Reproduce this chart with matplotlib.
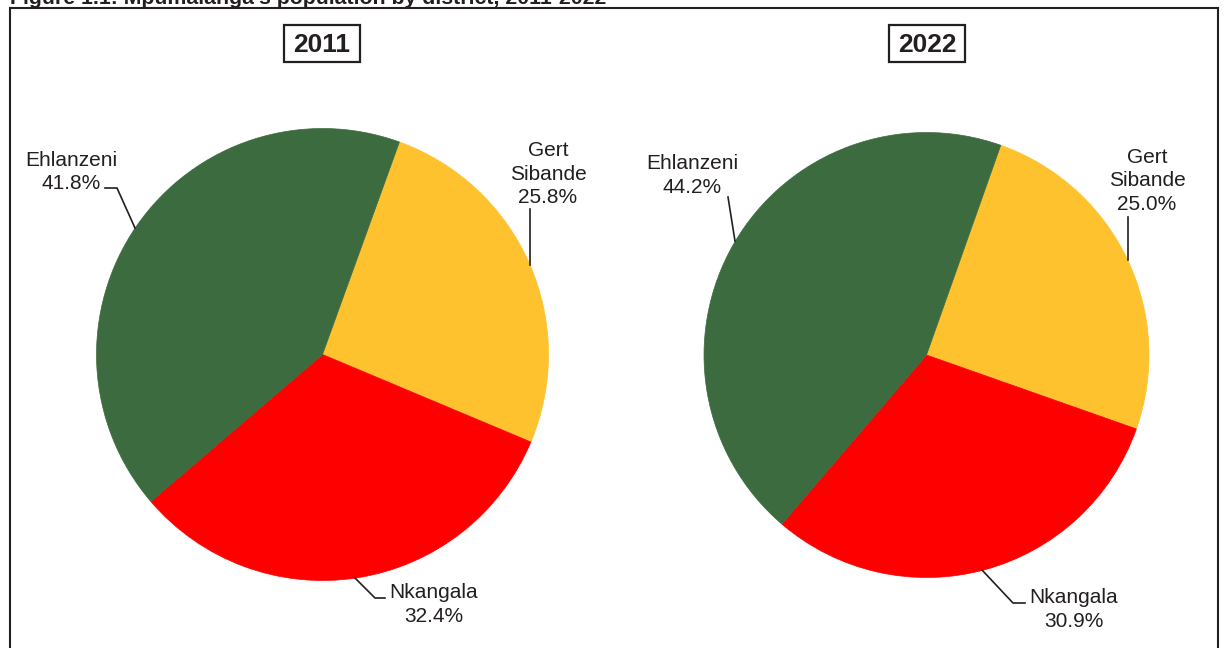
#!/usr/bin/env python3
"""Mpumalanga population by district, 2011 vs 2022 - two pie charts."""

import matplotlib.pyplot as plt
from matplotlib.patches import Rectangle

plt.rcParams['font.family'] = ['Liberation Sans', 'DejaVu Sans']

# data
districts = ['Gert\nSibande', 'Nkangala', 'Ehlanzeni']
share_2011 = [25.8, 32.4, 41.8]
share_2022 = [25.0, 30.9, 44.2]
years = ['2011', '2022']
colors = ['#FDC22E', '#FF0000', '#3D6B40']
title = "Figure 1.1: Mpumalanga's population by district, 2011-2022"

W, H = 1225, 648
TXT = '#231F20'


def py(y):
    # pixel row (from top) -> data y (from bottom)
    return H - y


fig = plt.figure(figsize=(W / 100, H / 100), dpi=100)
ax = fig.add_axes([0, 0, 1, 1])
ax.set_xlim(0, W)
ax.set_ylim(0, H)
ax.set_aspect('equal')
ax.axis('off')

# outer frame (bottom runs off the page)
ax.plot([10, 10, 1218, 1218], [py(660), py(8), py(8), py(660)],
        color=TXT, lw=1.5, solid_joinstyle='miter', clip_on=False)

# title, mostly cut off at the top of the page (as in the source scan)
ax.text(10, py(4.5), title, fontsize=15.3, fontweight='bold', color=TXT,
        ha='left', va='baseline', clip_on=False)

# layout per pie: centre, radius, start angle, year box, label positions, leaders
panels = [
    dict(values=share_2011, center=(322.5, 354.5), radius=226, start=70.1,
         box=(284, 25, 76, 37),
         labels=[(548, 174), (434, 604.5), (71, 172)],
         leaders=[[(530, 209), (530, 265)],
                  [(355, 578), (375, 598), (385, 598)],
                  [(105, 188), (117, 188), (135, 228)]]),
    dict(values=share_2022, center=(926.5, 355), radius=222.5, start=70.5,
         box=(889, 25, 76, 37),
         labels=[(1147, 181), (1074, 609.5), (692, 175.5)],
         leaders=[[(1128, 217), (1128, 260)],
                  [(982, 570), (1013, 603), (1025, 603)],
                  [(728, 197), (735, 241)]]),
]

for year, p in zip(years, panels):
    cx, cy = p['center']
    wedges, _ = ax.pie(p['values'], colors=colors, startangle=p['start'],
                       counterclock=False, radius=p['radius'],
                       center=(cx, py(cy)), frame=True)
    for w in wedges:
        w.set_edgecolor(w.get_facecolor())
        w.set_linewidth(0.5)

    # year box
    bx, by, bw, bh = p['box']
    ax.add_patch(Rectangle((bx, py(by + bh)), bw, bh, fill=False,
                           edgecolor=TXT, lw=1.6))
    ax.text(bx + bw / 2, py(by + bh / 2 + 1), year, fontsize=19, fontweight='bold',
            color=TXT, ha='center', va='center')

    # labels + leader lines
    for name, val, (lx, ly) in zip(districts, p['values'], p['labels']):
        ax.text(lx, py(ly), f'{name}\n{val:.1f}%', fontsize=15, color=TXT,
                ha='center', va='center', linespacing=1.27)
    for pts in p['leaders']:
        xs = [q[0] for q in pts]
        ys = [py(q[1]) for q in pts]
        ax.plot(xs, ys, color=TXT, lw=1.2)

ax.set_xlim(0, W)
ax.set_ylim(0, H)
ax.axis('off')

fig.savefig('out.png', dpi=100, facecolor='white')
